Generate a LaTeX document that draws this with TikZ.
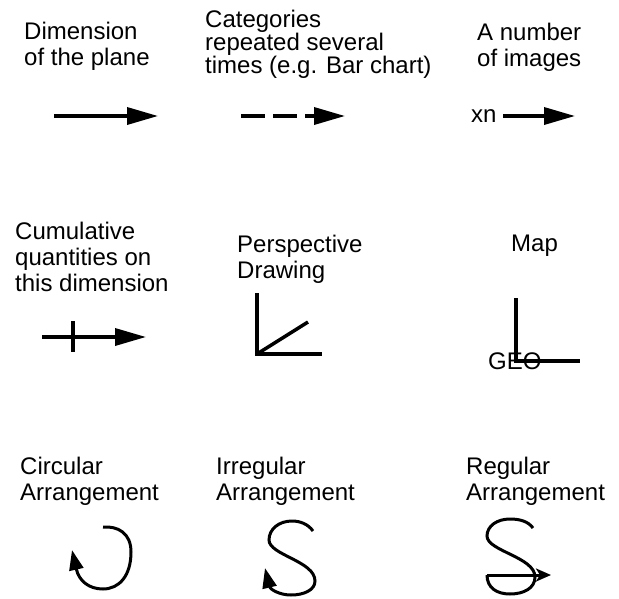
\documentclass[tikz,border=0pt]{standalone}
\usepackage{fontspec}
\setmainfont{Liberation Sans}
\usetikzlibrary{arrows.meta}

\tikzset{
  lbl/.style={anchor=north west, inner sep=0pt, align=left, font=\fontsize{24}{26}\selectfont},
  thickline/.style={line width=3.5pt},
  bigarrow/.style={line width=3.5pt, -{Triangle[length=31pt,width=17pt]}},
  curl/.style={line width=3pt},
  curlarrow/.style={line width=3pt, -{Triangle[length=20pt,width=14pt]}},
  smallarrow/.style={line width=3pt, -{Stealth[length=15pt,width=13pt,inset=4pt]}}
}

\begin{document}
\begin{tikzpicture}[x=1pt, y=-1pt]
    \useasboundingbox (0,0) rectangle (619,598);

    % Top row
    % Dimension of the plane
    \node[lbl] (dimtxt) at (24,22) {Dimension\\of the plane};
    \coordinate (dimA) at (54,116);
    \coordinate (dimB) at (158,116);
    \draw[bigarrow] (dimA) -- (dimB);

    % Repeated categories
    \node[lbl, font=\fontsize{24}{23}\selectfont] (cattxt) at (205,10) {Categories\\repeated several\\times (e.g. Bar chart)};
    \coordinate (catA) at (241,116);
    \coordinate (catB) at (345,116);
    \draw[bigarrow, dash pattern=on 24pt off 8pt] (catA) -- (catB);

    % Number of images
    \node[lbl] (imgtxt) at (477,23) {A number\\of images};
    \node[lbl, anchor=base west] (xn) at (471,122) {xn};
    \coordinate (imgA) at (503,116);
    \coordinate (imgB) at (575,116);
    \draw[bigarrow] (imgA) -- (imgB);

    % Middle row
    % Cumulative quantities
    \node[lbl] (cumtxt) at (15,222) {Cumulative\\quantities on\\this dimension};
    \coordinate (cumA) at (42,337);
    \coordinate (cumB) at (146,337);
    \draw[bigarrow] (cumA) -- (cumB);
    \draw[thickline] (73,321) -- (73,352);

    % Perspective drawing
    \node[lbl] (pertxt) at (237,235) {Perspective\\Drawing};
    \draw[thickline] (257,293) -- (257,354) -- (322,354);
    \draw[thickline] (257,354) -- (308,322);

    % Map
    \node[lbl] (maptxt) at (511,235) {Map};
    \draw[thickline] (516,298) -- (516,361) -- (580,361);
    \node[lbl, anchor=base west] (geo) at (488,369) {GEO};

    % Bottom row
    % Circular arrangement
    \node[lbl] (cirtxt) at (20,457) {Circular\\Arrangement};
    \draw[curlarrow] (103,527) .. controls (118,526) and (131,533) .. (131,552)
        .. controls (131,576) and (119,589) .. (103,589)
        .. controls (89,589) and (79,581) .. (72,550);

    % Irregular arrangement
    \node[lbl] (irrtxt) at (216,457) {Irregular\\Arrangement};
    \draw[curlarrow] (313,531) .. controls (308,524) and (300,521) .. (292,521)
        .. controls (279,521) and (269,529) .. (269,540)
        .. controls (269,555) and (315,561) .. (315,581)
        .. controls (315,590) and (304,595) .. (291,595)
        .. controls (279,595) and (270,589) .. (265,568);

    % Regular arrangement
    \node[lbl] (regtxt) at (466,457) {Regular\\Arrangement};
    \draw[curl] (533,528) .. controls (528,521) and (519,519) .. (510,519)
        .. controls (497,519) and (487,526) .. (487,536)
        .. controls (487,551) and (535,557) .. (535,577)
        .. controls (535,588) and (524,594) .. (510,594)
        .. controls (497,594) and (487,588) .. (487,575);
    \coordinate (regA) at (487,575);
    \coordinate (regB) at (551,575);
    \draw[smallarrow] (regA) -- (regB);
\end{tikzpicture}
\end{document}
